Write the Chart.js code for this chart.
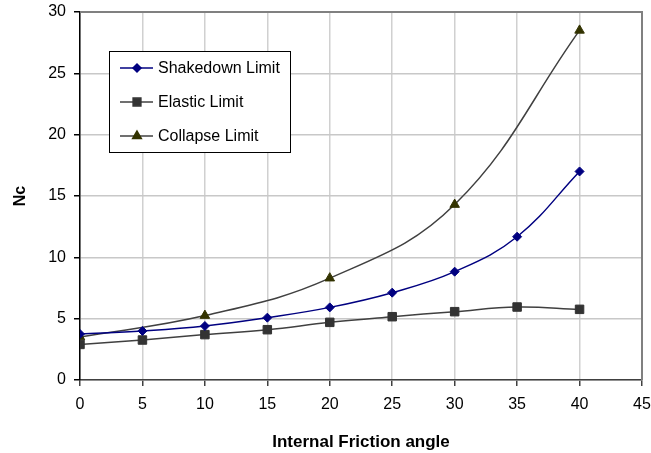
<!DOCTYPE html>
<html>
<head>
<meta charset="utf-8">
<script src="https://cdn.jsdelivr.net/npm/chart.js@4.4.1/dist/chart.umd.min.js"></script>
<style>
  body { margin: 0; background: #fff; }
  #wrap { width: 651px; height: 453px; }
</style>
</head>
<body>
<div id="wrap"><canvas id="chart" width="651" height="453"></canvas></div>
<script>
// values
const angles = [0, 5, 10, 15, 20, 25, 30, 35, 40];
const shakedown = [3.75, 4.0, 4.4, 5.08, 5.92, 7.12, 8.83, 11.68, 17.0];
const elastic = [2.9, 3.26, 3.7, 4.1, 4.7, 5.16, 5.57, 5.95, 5.76];
const collapseAngles = [0, 10, 20, 30, 40];
const collapse = [3.5, 5.25, 8.3, 14.3, 28.5];
const xTicks = [0, 5, 10, 15, 20, 25, 30, 35, 40, 45];
const yTicks = [0, 5, 10, 15, 20, 25, 30];

const font = "'Liberation Sans', Arial, sans-serif";

function pts(xs, ys) {
    return xs.map((x, i) => ({ x: x, y: ys[i] }));
}

const series = [
    { label: 'Shakedown Limit', data: pts(angles, shakedown), line: '#000080', fill: '#000080', style: 'rectRot', r: 4.5 },
    { label: 'Elastic Limit', data: pts(angles, elastic), line: '#404040', fill: '#333333', style: 'rect', r: 6 },
    { label: 'Collapse Limit', data: pts(collapseAngles, collapse), line: '#404040', fill: '#333300', style: 'triangle', r: 5.5 }
];

// legend box and frame drawn by hand, like the original
const boxPlugin = {
    id: 'boxPlugin',
    afterDraw(chart) {
        const ctx = chart.ctx;
        const a = chart.chartArea;
        ctx.save();
        ctx.strokeStyle = '#808080';
        ctx.lineWidth = 2;
        ctx.beginPath();
        ctx.moveTo(a.left, a.top);
        ctx.lineTo(a.right, a.top);
        ctx.lineTo(a.right, a.bottom);
        ctx.stroke();

        ctx.fillStyle = '#fff';
        ctx.fillRect(109, 51, 182, 102);
        ctx.strokeStyle = '#000';
        ctx.lineWidth = 1;
        ctx.strokeRect(109.5, 51.5, 181, 101);
        const rows = [68, 102, 136];
        const sizes = [4, 5.5, 5];
        series.forEach((s, i) => {
            const y = rows[i];
            ctx.strokeStyle = s.line;
            ctx.lineWidth = 1.5;
            ctx.beginPath();
            ctx.moveTo(120, y);
            ctx.lineTo(153, y);
            ctx.stroke();
            ctx.fillStyle = s.fill;
            ctx.strokeStyle = s.fill;
            Chart.helpers.drawPoint(ctx, { pointStyle: s.style, radius: sizes[i], borderWidth: 1 }, 137, y);
            ctx.fillStyle = '#000';
            ctx.font = '16px ' + font;
            ctx.textBaseline = 'middle';
            ctx.textAlign = 'left';
            ctx.fillText(s.label, 158, y + 1);
        });
        ctx.restore();
    }
};

new Chart(document.getElementById('chart'), {
    type: 'line',
    data: {
        datasets: series.map(s => ({
            label: s.label,
            data: s.data,
            borderColor: s.line,
            borderWidth: 1.5,
            backgroundColor: s.fill,
            pointBackgroundColor: s.fill,
            pointBorderColor: s.fill,
            pointStyle: s.style,
            pointRadius: s.r,
            pointBorderWidth: 1,
            tension: 0.4,
            fill: false
        }))
    },
    options: {
        responsive: false,
        animation: false,
        layout: { padding: { top: 12, right: 9, left: 0, bottom: 0 } },
        plugins: { legend: { display: false }, tooltip: { enabled: false } },
        scales: {
            x: {
                type: 'linear',
                min: 0,
                max: 45,
                afterBuildTicks: s => { s.ticks = xTicks.map(v => ({ value: v })); },
                afterFit: s => { s.height = 73; s.paddingLeft = 0; s.paddingRight = 0; },
                grid: { color: '#d0d0d0', lineWidth: 1.5, tickLength: 6, tickColor: '#404040' },
                border: { color: '#404040', width: 1.5 },
                ticks: { color: '#000', font: { family: font, size: 16 }, padding: 9, maxRotation: 0 },
                title: { display: true, text: 'Internal Friction angle', color: '#000', font: { family: font, size: 17, weight: 'bold' }, padding: { top: 20, bottom: 0 } }
            },
            y: {
                min: 0,
                max: 30,
                afterBuildTicks: s => { s.ticks = yTicks.map(v => ({ value: v })); },
                afterFit: s => { s.width = 80; s.paddingTop = 0; s.paddingBottom = 0; },
                grid: { color: '#c8c8c8', lineWidth: 1.5, tickLength: 6, tickColor: '#000' },
                border: { color: '#000', width: 1.5 },
                ticks: { color: '#000', font: { family: font, size: 16 }, padding: 8 },
                title: { display: true, text: 'Nc', color: '#000', font: { family: font, size: 16, weight: 'bold' }, padding: { top: 11, bottom: 0 } }
            }
        }
    },
    plugins: [boxPlugin]
});
</script>
</body>
</html>
